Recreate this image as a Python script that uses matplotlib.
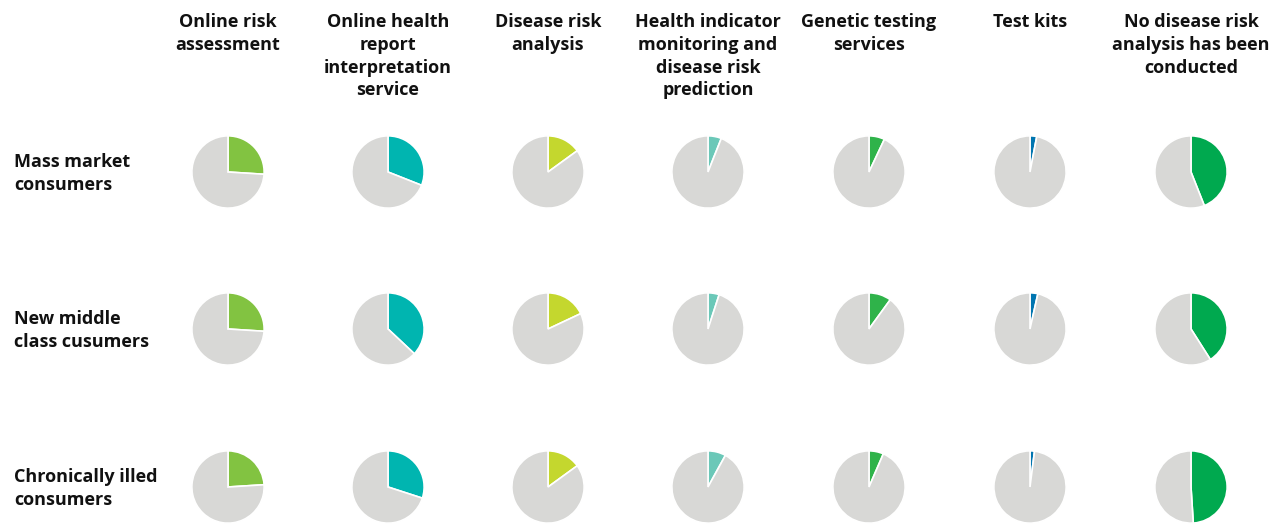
import matplotlib.pyplot as plt

# categories (columns) and consumer groups (rows)
services = ["Online risk\nassessment",
            "Online health\nreport\ninterpretation\nservice",
            "Disease risk\nanalysis",
            "Health indicator\nmonitoring and\ndisease risk\nprediction",
            "Genetic testing\nservices",
            "Test kits",
            "No disease risk\nanalysis has been\nconducted"]
groups = ["Mass market\nconsumers", "New middle\nclass cusumers", "Chronically illed\nconsumers"]

# share (%) per group, one list per row
mass_market = [26, 31, 15, 6, 7, 3, 44]
new_middle = [26, 37, 18, 5, 10, 3.5, 41]
chronic = [24, 30, 15, 8, 6.5, 2, 49]
values = [mass_market, new_middle, chronic]

colors = ["#82c341", "#00b5b0", "#c4d72e", "#6bc8b8", "#2fb34a", "#0075b0", "#00a94f"]
grey = "#d8d8d6"

W, H = 1276, 525
fig = plt.figure(figsize=(W / 100, H / 100), dpi=100)
plt.rcParams['font.family'] = ['Open Sans', 'DejaVu Sans']

col_x = [228, 388, 548, 708, 869, 1030, 1191]
row_y = [172, 329, 487]
r = 36.5

for i, row in enumerate(values):
    for j, v in enumerate(row):
        ax = fig.add_axes([(col_x[j] - r) / W, 1 - (row_y[i] + r) / H, 2 * r / W, 2 * r / H])
        ax.pie([v, 100 - v], colors=[colors[j], grey], startangle=90, counterclock=False,
               wedgeprops=dict(edgecolor="white", linewidth=1.2))
        ax.set_xlim(-1.01, 1.01)
        ax.set_ylim(-1.01, 1.01)
        ax.set_aspect("equal")
        ax.axis("off")

for j, s in enumerate(services):
    fig.text(col_x[j] / W, 1 - 13 / H, s, ha="center", va="top", fontsize=13,
             fontweight="bold", color="#111111", linespacing=1.34)

for i, g in enumerate(groups):
    fig.text(14 / W, 1 - (row_y[i] + 1.5) / H, g, ha="left", va="center", fontsize=13,
             fontweight="bold", color="#111111", linespacing=1.34)

fig.savefig("out.png", dpi=100, facecolor="white")
